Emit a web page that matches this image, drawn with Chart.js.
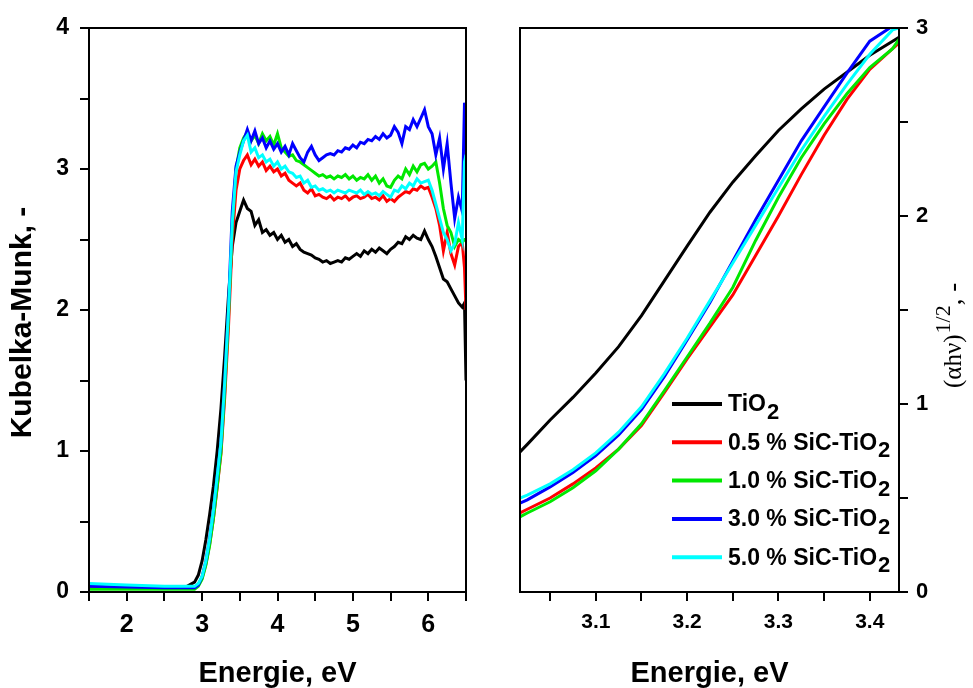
<!DOCTYPE html>
<html><head><meta charset="utf-8">
<script src="https://cdn.jsdelivr.net/npm/chart.js@4.4.0/dist/chart.umd.min.js"></script>
<style>
html,body{margin:0;padding:0;background:#fff;}
#wrap{position:relative;width:973px;height:688px;background:#fff;}
#l{position:absolute;left:0;top:0;width:490px;height:688px;}
#r{position:absolute;left:490px;top:0;width:483px;height:688px;}
</style></head><body>
<div id="wrap"><div id="l"><canvas id="cl"></canvas></div><div id="r"><canvas id="cr"></canvas></div></div>
<script>
// ---------- DATA ----------
const SERIES_NAMES = ['TiO₂', '0.5 % SiC-TiO₂', '1.0 % SiC-TiO₂', '3.0 % SiC-TiO₂', '5.0 % SiC-TiO₂'];
const SERIES_COLORS = ['#000000', '#ff0000', '#00e800', '#0000ff', '#00ffff'];

// Left panel: Kubelka-Munk vs energy
const KM_E = [1.5,2.0,2.5,2.8,2.9,2.95,3.0,3.05,3.1,3.15,3.2,3.25,3.3,3.35,3.4,3.45,
  3.5,3.55,3.6,3.65,3.7,3.75,3.8,3.85,3.9,3.95,
  4.0,4.05,4.1,4.15,4.2,4.25,4.3,4.35,4.4,4.45,
  4.5,4.55,4.6,4.65,4.7,4.75,4.8,4.85,4.9,4.95,
  5.0,5.05,5.1,5.15,5.2,5.25,5.3,5.35,5.4,5.45,
  5.5,5.55,5.6,5.65,5.7,5.75,5.8,5.85,5.9,5.95,
  6.0,6.05,6.1,6.15,6.2,6.25,6.3,6.35,6.4,6.45,6.48,6.5];
const KM_TiO2 = [0.03,0.03,0.03,0.04,0.07,0.12,0.22,0.37,0.55,0.75,1.0,1.3,1.68,2.1,2.45,2.62,
  2.7,2.78,2.72,2.7,2.6,2.64,2.55,2.57,2.53,2.55,
  2.5,2.53,2.48,2.5,2.45,2.47,2.43,2.41,2.4,2.39,
  2.37,2.36,2.34,2.35,2.33,2.34,2.35,2.34,2.37,2.36,
  2.38,2.4,2.38,2.42,2.4,2.43,2.41,2.44,2.42,2.4,
  2.43,2.45,2.48,2.47,2.52,2.5,2.53,2.51,2.5,2.56,
  2.5,2.45,2.38,2.3,2.22,2.2,2.15,2.1,2.05,2.02,2.05,1.5];
const KM_05 = [0.03,0.03,0.03,0.03,0.03,0.05,0.1,0.2,0.34,0.52,0.74,0.98,1.38,1.88,2.5,2.85,
  3.0,3.06,3.1,3.03,3.07,3.02,3.05,2.99,3.02,2.98,
  3.0,2.95,2.97,2.92,2.9,2.88,2.9,2.85,2.83,2.86,
  2.81,2.82,2.8,2.79,2.81,2.78,2.8,2.79,2.81,2.78,
  2.8,2.81,2.79,2.8,2.82,2.79,2.8,2.78,2.81,2.77,
  2.79,2.77,2.8,2.82,2.84,2.83,2.86,2.85,2.88,2.86,
  2.87,2.8,2.72,2.6,2.42,2.55,2.4,2.32,2.45,2.48,2.3,2.0];
const KM_10 = [0.02,0.02,0.02,0.02,0.02,0.04,0.09,0.19,0.33,0.52,0.75,0.99,1.42,1.95,2.6,3.0,
  3.15,3.22,3.26,3.2,3.24,3.18,3.25,3.2,3.23,3.17,
  3.25,3.15,3.12,3.09,3.1,3.06,3.05,3.03,3.01,2.99,
  2.97,2.95,2.96,2.94,2.95,2.93,2.95,2.94,2.96,2.93,
  2.95,2.92,2.94,2.93,2.96,2.92,2.95,2.9,2.93,2.88,
  2.87,2.92,2.95,2.93,3.0,2.96,3.02,2.98,3.03,3.04,
  3.0,3.02,3.05,2.9,2.72,2.6,2.55,2.45,2.5,2.48,2.5,2.5];
const KM_30 = [0.04,0.035,0.03,0.03,0.03,0.05,0.11,0.22,0.38,0.58,0.82,1.06,1.5,2.02,2.7,3.02,
  3.12,3.2,3.28,3.2,3.27,3.18,3.22,3.15,3.2,3.14,
  3.18,3.12,3.16,3.1,3.18,3.13,3.08,3.05,3.12,3.16,
  3.1,3.06,3.08,3.1,3.11,3.1,3.13,3.12,3.15,3.14,
  3.17,3.15,3.19,3.18,3.21,3.2,3.23,3.21,3.25,3.22,
  3.24,3.3,3.26,3.18,3.3,3.28,3.35,3.3,3.36,3.42,
  3.3,3.25,3.1,3.22,3.0,3.18,2.9,2.65,2.8,2.7,3.47,3.35];
const KM_50 = [0.06,0.05,0.04,0.04,0.04,0.06,0.11,0.22,0.38,0.58,0.82,1.06,1.49,2.0,2.62,2.98,
  3.1,3.2,3.24,3.12,3.15,3.08,3.1,3.05,3.07,3.02,
  3.05,3.0,3.02,2.98,2.97,2.94,2.95,2.9,2.92,2.87,
  2.88,2.85,2.86,2.84,2.85,2.83,2.85,2.84,2.83,2.85,
  2.84,2.83,2.85,2.82,2.84,2.82,2.83,2.81,2.84,2.82,
  2.8,2.85,2.84,2.88,2.86,2.9,2.88,2.93,2.9,2.91,
  2.92,2.85,2.75,2.65,2.55,2.5,2.42,2.47,2.62,2.5,3.05,3.1];
const KM_X_TICKS = [1.5,2,2.5,3,3.5,4,4.5,5,5.5,6,6.5];
const KM_Y_TICKS = [0,0.5,1,1.5,2,2.5,3,3.5,4];

// Right panel: (alpha h nu)^1/2 vs energy
const T_E = [3.017,3.025,3.05,3.075,3.1,3.125,3.15,3.175,3.2,3.225,3.25,3.275,3.3,3.325,3.35,3.375,3.4,3.425,3.432];
const T_TiO2 = [0.745,0.785,0.915,1.035,1.165,1.305,1.47,1.655,1.84,2.02,2.18,2.32,2.455,2.57,2.675,2.765,2.855,2.93,2.95];
const T_05 = [0.42,0.44,0.50,0.575,0.66,0.76,0.885,1.06,1.24,1.41,1.58,1.79,2.0,2.22,2.43,2.62,2.78,2.89,2.92];
const T_10 = [0.40,0.42,0.48,0.555,0.645,0.76,0.895,1.07,1.25,1.43,1.62,1.87,2.1,2.31,2.49,2.65,2.79,2.89,2.94];
const T_30 = [0.473,0.49,0.559,0.635,0.725,0.835,0.97,1.145,1.34,1.54,1.76,1.98,2.19,2.40,2.58,2.76,2.93,3.01,3.03];
const T_50 = [0.50,0.515,0.575,0.65,0.74,0.85,0.985,1.16,1.35,1.55,1.75,1.95,2.15,2.35,2.53,2.70,2.86,2.99,3.0];
const T_X_TICKS = [3.05,3.1,3.15,3.2,3.25,3.3,3.35,3.4];
const T_Y_TICKS = [0,0.5,1,1.5,2,2.5,3];

// ---------- HELPERS ----------
const SANS = '"Liberation Sans", Arial, Helvetica, sans-serif';
const SERIF = '"Liberation Serif", "Times New Roman", serif';
const pts = (xs, ys) => xs.map((x, i) => ({x: x, y: ys[i]}));
const mkSets = (xs, arrs) => arrs.map((ys, i) => ({
  label: SERIES_NAMES[i], data: pts(xs, ys), borderColor: SERIES_COLORS[i], backgroundColor: SERIES_COLORS[i],
  borderWidth: 3, pointRadius: 0, tension: 0, fill: false, order: arrs.length - i
}));
const framePlugin = {id: 'frame', afterDatasetsDraw(chart) {
  const {ctx, chartArea: a} = chart;
  ctx.save(); ctx.strokeStyle = '#000'; ctx.lineWidth = 2;
  ctx.strokeRect(a.left, a.top, a.right - a.left, a.bottom - a.top); ctx.restore();
}};
const isMult = (v, step) => Math.abs(v / step - Math.round(v / step)) < 1e-6;
const gridOpts = {drawOnChartArea: false, drawTicks: true, tickLength: 9, color: '#000', lineWidth: 2};
const borderOpts = {display: true, color: '#000', width: 2};

Chart.defaults.font.family = SANS;
Chart.defaults.color = '#000';

// ---------- LEFT CHART ----------
new Chart(document.getElementById('cl'), {
  type: 'line',
  data: {datasets: mkSets(KM_E, [KM_TiO2, KM_05, KM_10, KM_30, KM_50])},
  options: {
    responsive: true, maintainAspectRatio: false, animation: false,
    layout: {padding: {top: 28, right: 24, left: 0, bottom: 0}},
    plugins: {legend: {display: false}, tooltip: {enabled: false}},
    scales: {
      x: {type: 'linear', min: 1.5, max: 6.5,
        afterBuildTicks: s => { s.ticks = KM_X_TICKS.map(v => ({value: v})); },
        afterFit: s => { s.height = 96; },
        ticks: {font: {weight: 'bold', size: 25}, color: '#000', padding: 9, maxRotation: 0, autoSkip: false,
          callback: v => isMult(v, 1) ? String(Math.round(v)) : ''},
        grid: gridOpts, border: borderOpts,
        title: {display: true, text: 'Energie, eV', color: '#000', font: {weight: 'bold', size: 29, lineHeight: 1}, padding: 0}
      },
      y: {type: 'linear', min: 0, max: 4,
        afterBuildTicks: s => { s.ticks = KM_Y_TICKS.map(v => ({value: v})); },
        afterFit: s => { s.width = 89; },
        ticks: {font: {weight: 'bold', size: 23}, color: '#000', padding: 11, autoSkip: false,
          callback: v => isMult(v, 1) ? String(Math.round(v)) : ''},
        grid: gridOpts, border: borderOpts,
        title: {display: true, text: 'Kubelka-Munk, -\u00a0\u00a0\u00a0', color: '#000', font: {weight: 'bold', size: 30, lineHeight: 1}, padding: {top: 8, bottom: 0}}
      }
    }
  },
  plugins: [framePlugin]
});

// ---------- RIGHT CHART ----------
const legendPlugin = {id: 'insetLegend', afterDatasetsDraw(chart) {
  const ctx = chart.ctx; ctx.save();
  const x0 = 182, x1 = 232, tx = 238, y0 = 404, dy = 38.3;
  chart.data.datasets.forEach((ds, i) => {
    const y = y0 + i * dy;
    ctx.strokeStyle = ds.borderColor; ctx.lineWidth = 4; ctx.lineCap = 'butt';
    ctx.beginPath(); ctx.moveTo(x0, y); ctx.lineTo(x1, y); ctx.stroke();
    const base = ds.label.replace('₂', '');
    ctx.fillStyle = '#000'; ctx.textBaseline = 'middle'; ctx.textAlign = 'left';
    ctx.font = 'bold 23px ' + SANS;
    ctx.fillText(base, tx, y + 1);
    const w = ctx.measureText(base).width;
    ctx.font = 'bold 22px ' + SANS;
    ctx.fillText('2', tx + w + 1, y + 9);
  });
  ctx.restore();
}};
const yTitlePlugin = {id: 'yTitleRight', afterDraw(chart) {
  const ctx = chart.ctx; ctx.save();
  ctx.translate(471, 388); ctx.rotate(-Math.PI / 2);
  ctx.fillStyle = '#000'; ctx.textBaseline = 'alphabetic'; ctx.textAlign = 'left';
  ctx.font = '25px ' + SERIF; const main = '(αhν)';
  ctx.fillText(main, 0, 0); let w = ctx.measureText(main).width;
  ctx.font = '22px ' + SERIF; const sup = '1/2';
  ctx.fillText(sup, w + 1, -11); w += ctx.measureText(sup).width + 1;
  ctx.font = '27px ' + SERIF;
  ctx.fillText(', -', w, 0);
  ctx.restore();
}};
new Chart(document.getElementById('cr'), {
  type: 'line',
  data: {datasets: mkSets(T_E, [T_TiO2, T_05, T_10, T_30, T_50])},
  options: {
    responsive: true, maintainAspectRatio: false, animation: false,
    layout: {padding: {top: 28, right: 0, left: 30, bottom: 0}},
    plugins: {legend: {display: false}, tooltip: {enabled: false}},
    scales: {
      x: {type: 'linear', min: 3.017, max: 3.432,
        afterBuildTicks: s => { s.ticks = T_X_TICKS.map(v => ({value: v})); },
        afterFit: s => { s.height = 96; },
        ticks: {font: {weight: 'bold', size: 21}, color: '#000', padding: 9, maxRotation: 0, autoSkip: false,
          callback: v => isMult(v, 0.1) ? v.toFixed(1) : ''},
        grid: gridOpts, border: borderOpts,
        title: {display: true, text: 'Energie, eV', color: '#000', font: {weight: 'bold', size: 29, lineHeight: 1}, padding: 0}
      },
      y: {type: 'linear', position: 'right', min: 0, max: 3,
        afterBuildTicks: s => { s.ticks = T_Y_TICKS.map(v => ({value: v})); },
        afterFit: s => { s.width = 74; },
        ticks: {font: {weight: 'bold', size: 22}, color: '#000', padding: 8, autoSkip: false,
          callback: v => isMult(v, 1) ? String(Math.round(v)) : ''},
        grid: gridOpts, border: borderOpts
      }
    }
  },
  plugins: [framePlugin, legendPlugin, yTitlePlugin]
});
</script>
</body></html>
